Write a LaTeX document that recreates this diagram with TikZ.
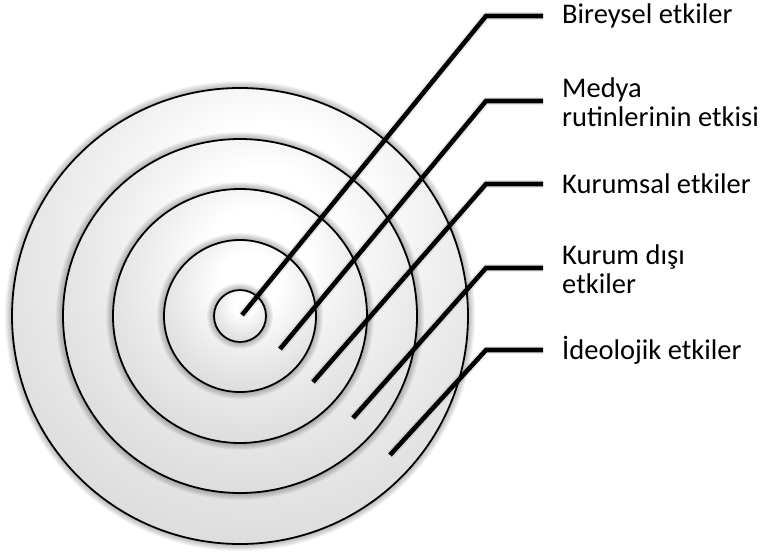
\documentclass[tikz,border=0pt]{standalone}
\usepackage{fontspec}
\setmainfont{Carlito}
\pgfdeclareradialshading{disc}{\pgfpoint{4bp}{14bp}}{color(0bp)=(white); color(10bp)=(white); color(50bp)=(black!26)}
\begin{document}
\begin{tikzpicture}[x=1pt,y=-1pt,
  ring/.style={draw=black, line width=1.8pt, shading=disc},
  leader/.style={line width=4.6pt, black, line join=miter},
  leadershadow/.style={line width=8pt, black, opacity=0.08, line join=round, shift={(1,4)}},
  lbl/.style={anchor=west, inner sep=0pt, align=left, font=\fontsize{28.5}{29}\selectfont}]
\useasboundingbox (0,0) rectangle (765,552);
\coordinate (c) at (240,316);
\foreach \r in {228,177,127,76,26}{
  \foreach \k in {1,...,7}{
    \fill[black, opacity=0.045, shift={(-1,5)}] (c) circle[radius={(\r+8-\k)*1pt}];
  }
  \draw[ring] (c) circle[radius={\r*1pt}];
}
\node[lbl] (l1) at (562,16) {Bireysel etkiler};
\node[lbl] (l2) at (562,102) {Medya\\rutinlerinin etkisi};
\node[lbl] (l3) at (562,184) {Kurumsal etkiler};
\node[lbl] (l4) at (562,269) {Kurum dışı\\etkiler};
\node[lbl] (l5) at (562,350) {İdeolojik etkiler};
\coordinate (s1) at (242,315); \coordinate (k1) at (486,16);
\coordinate (s2) at (280,349); \coordinate (k2) at (486,101);
\coordinate (s3) at (313,382); \coordinate (k3) at (486,184);
\coordinate (s4) at (353,418); \coordinate (k4) at (486,268);
\coordinate (s5) at (390,455); \coordinate (k5) at (486,350);
\foreach \i in {1,...,5}{
  \draw[leadershadow, shorten >=19pt] (s\i) -- (k\i) -- (k\i -| l\i.west);
  \draw[leader, shorten >=19pt] (s\i) -- (k\i) -- (k\i -| l\i.west);
}
\end{tikzpicture}
\end{document}
